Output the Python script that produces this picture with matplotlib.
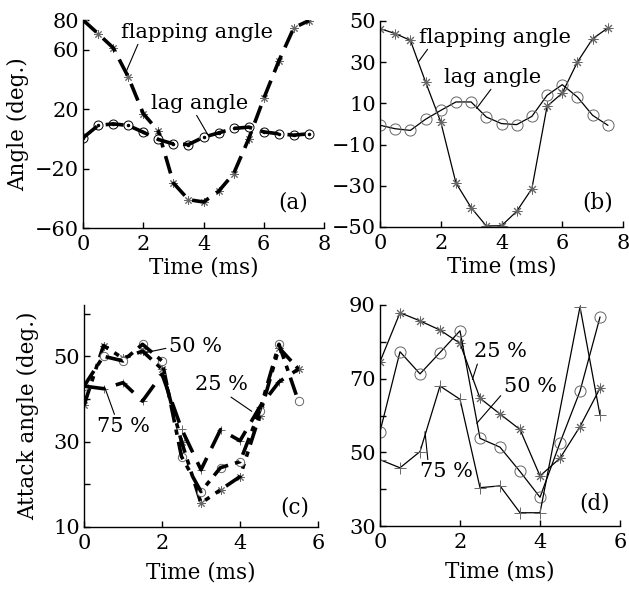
import matplotlib
matplotlib.use("Agg")
import matplotlib.pyplot as plt

plt.rcParams['font.family'] = ['DejaVu Serif']
plt.rcParams['font.size'] = 15
plt.rcParams['axes.unicode_minus'] = True

# ====================== DATA ======================
t_ab = [0, 0.5, 1.0, 1.5, 2.0, 2.5, 3.0, 3.5, 4.0, 4.5, 5.0, 5.5, 6.0, 6.5, 7.0, 7.5]

# (a) angles
flap_a = [80, 70.8, 61.3, 41.8, 17, 5.2, -29.7, -40.9, -42.5, -35.3, -23.4, 0, 27.2, 52.4, 74.8, 79.6]
lag_a = [0.7, 9, 10.1, 9, 4.5, -0.4, -3.4, -3.8, 1.1, 4.0, 7, 7.9, 4.7, 3.4, 2.5, 3.4]

# (b) angles
flap_b = [46.3, 43.9, 40.6, 20.4, 1.0, -28.6, -40.6, -49.5, -49.4, -42.4, -31.4, 8.6, 15.0, 30.1, 41.4, 46.6]
lag_b = [-0.6, -2.3, -3.1, 2.3, 6.6, 10.7, 10.7, 3.4, 0.2, -0.3, 3.7, 13.9, 19.1, 13.1, 4.2, -0.6]

# (c) attack angle
t_cd = [0, 0.5, 1.0, 1.5, 2.0, 2.5, 3.0, 3.5, 4.0, 4.5, 5.0, 5.5]
c_25 = [38.5, 52.5, 49.5, 51.2, 47, 30, 15.6, 18.7, 21.8, 36, 52, 47]
c_50 = [43, 50, 48.9, 52.8, 48.9, 26.5, 18.3, 23.9, 25.3, 37.1, 52.8, 39.4]
c_75 = [43, 42.4, 43.8, 39.5, 45.8, 33, 23.4, 32.8, 30.2, 38, 44, 47]

# (d) attack angle
d_25 = [74.6, 87.9, 85.7, 83.2, 79.6, 64.7, 60.4, 56.2, 43.6, 48.4, 57.0, 67.4]
d_50 = [55.6, 77.3, 71.3, 77.1, 83.0, 53.8, 51.4, 44.8, 37.8, 52.6, 66.6, 86.7]
t_d75 = [0, 0.5, 1.0, 1.5, 2.0, 2.5, 3.0, 3.5, 4.0, 5.0, 5.5]
d_75 = [48, 45.8, 50.2, 68.0, 64.4, 40.4, 40.9, 33.6, 33.6, 89.5, 60.1]

W, H = 629, 595
fig = plt.figure(figsize=(W / 100, H / 100), dpi=100)


def box(l, r, t, b):
    return [l / W, 1 - b / H, (r - l) / W, (b - t) / H]


def style(ax):
    for s in ['top', 'right']:
        ax.spines[s].set_visible(False)
    for s in ['left', 'bottom']:
        ax.spines[s].set_linewidth(1.0)
    ax.tick_params(direction='in', length=4, width=1, labelsize=15)
    ax.tick_params(axis='x', pad=5)
    ax.tick_params(axis='y', pad=3)


star = (8, 2, 0)
grey = '#666666'
arrow = dict(arrowstyle='-', lw=0.8, color='black', shrinkA=0, shrinkB=0)
lab = 15.5

# ---------- (a) ----------
ax = fig.add_axes(box(83, 324, 20, 228))
ax.plot(t_ab, flap_a, ls='none', marker=star, ms=6, mec=grey, mew=0.7)
ax.plot(t_ab, flap_a, color='black', lw=2.6, dashes=(5, 2.5))
ax.plot(t_ab, lag_a, ls='none', marker='o', ms=6.5, mfc='white', mec='black', mew=0.7)
ax.plot(t_ab, lag_a, color='black', lw=2.6, dashes=(5, 2.5))
ax.plot(t_ab, lag_a, ls='none', marker='.', ms=3, color='black')
ax.set_xlim(0, 8)
ax.set_ylim(-60, 80)
ax.set_xticks([0, 2, 4, 6, 8])
ax.set_yticks([-60, -20, 20, 60, 80])
ax.set_xlabel('Time (ms)', fontsize=lab, labelpad=2)
ax.set_ylabel('Angle (deg.)', fontsize=lab, labelpad=4)
ax.annotate('flapping angle', xy=(1.44, 45.6), xytext=(3.78, 71.9),
            ha='center', va='center', arrowprops=dict(arrow, relpos=(0.12, 0)))
ax.annotate('lag angle', xy=(4.15, 2.6), xytext=(3.88, 24.1),
            ha='center', va='center', arrowprops=dict(arrow, relpos=(0.45, 0)))
ax.text(0.87, 0.125, '(a)', transform=ax.transAxes, ha='center', va='center', fontsize=lab)
style(ax)

# ---------- (b) ----------
ax = fig.add_axes(box(380, 623, 21, 227))
ax.plot(t_ab, flap_b, color='black', lw=0.9, marker=star, ms=7, mec=grey, mew=0.7)
ax.plot(t_ab, lag_b, color='black', lw=0.9, marker='o', ms=8, mfc='none', mec=grey, mew=0.7)
ax.set_xlim(0, 8)
ax.set_ylim(-50, 50)
ax.set_xticks([0, 2, 4, 6, 8])
ax.set_yticks([-50, -30, -10, 10, 30, 50])
ax.set_xlabel('Time (ms)', fontsize=lab, labelpad=2)
ax.annotate('flapping angle', xy=(1.26, 30.1), xytext=(3.78, 42.2),
            ha='center', va='center', arrowprops=dict(arrow, relpos=(0.08, 0.1)))
ax.annotate('lag angle', xy=(3.18, 7.6), xytext=(3.72, 22.8),
            ha='center', va='center', arrowprops=dict(arrow, relpos=(0.5, 0)))
ax.text(0.897, 0.121, '(b)', transform=ax.transAxes, ha='center', va='center', fontsize=lab)
style(ax)

# ---------- (c) ----------
ax = fig.add_axes(box(84, 318, 305, 527))
ax.plot(t_cd, c_25, ls='none', marker=star, ms=6, mec=grey, mew=0.7)
ax.plot(t_cd, c_25, color='black', lw=2.6, dashes=(5, 2, 1.5, 2, 1.5, 2))
ax.plot(t_cd, c_50, ls='none', marker='o', ms=6, mfc='white', mec=grey, mew=0.7)
ax.plot(t_cd, c_50, color='black', lw=2.6, dashes=(5, 2, 1.5, 2))
ax.plot(t_cd, c_75, ls='none', marker='+', ms=6, mec=grey, mew=0.7)
ax.plot(t_cd, c_75, color='black', lw=2.6, dashes=(6, 3))
ax.set_xlim(0, 6)
ax.set_ylim(10, 62)
ax.set_xticks([0, 2, 4, 6])
ax.set_yticks([10, 20, 30, 40, 50, 60])
ax.set_yticklabels(['10', '', '30', '', '50', ''])
ax.set_xlabel('Time (ms)', fontsize=lab, labelpad=6)
ax.set_ylabel('Attack angle (deg.)', fontsize=lab, labelpad=10)
ax.annotate('50 %', xy=(1.56, 50.8), xytext=(2.85, 52.2),
            ha='center', va='center', arrowprops=dict(arrow, relpos=(0, 0.45)))
ax.annotate('25 %', xy=(4.3, 37.1), xytext=(3.53, 43.3),
            ha='center', va='center', arrowprops=dict(arrow, relpos=(0.6, 0)))
ax.annotate('75 %', xy=(0.54, 42.5), xytext=(1.01, 33.5),
            ha='center', va='center', arrowprops=dict(arrow, relpos=(0.35, 1)))
ax.text(0.90, 0.09, '(c)', transform=ax.transAxes, ha='center', va='center', fontsize=lab)
style(ax)

# ---------- (d) ----------
ax = fig.add_axes(box(380, 620, 305, 526))
ax.plot(t_cd, d_25, color='black', lw=0.9, marker=star, ms=7, mec=grey, mew=0.7)
ax.plot(t_cd, d_50, color='black', lw=0.9, marker='o', ms=8, mfc='none', mec=grey, mew=0.7)
ax.plot(t_d75, d_75, color='black', lw=0.9, marker='+', ms=9, mec=grey, mew=0.7)
ax.set_xlim(0, 6)
ax.set_ylim(30, 90)
ax.set_xticks([0, 2, 4, 6])
ax.set_yticks([30, 40, 50, 60, 70, 80, 90])
ax.set_yticklabels(['30', '', '50', '', '70', '', '90'])
ax.set_xlabel('Time (ms)', fontsize=lab, labelpad=6)
ax.annotate('25 %', xy=(2.31, 69.8), xytext=(3.0, 77.3),
            ha='center', va='center', arrowprops=dict(arrow, relpos=(0.1, 0.1)))
ax.annotate('50 %', xy=(2.42, 57.9), xytext=(3.75, 67.8),
            ha='center', va='center', arrowprops=dict(arrow, relpos=(0, 0.2)))
ax.annotate('75 %', xy=(1.125, 55.6), xytext=(1.67, 44.7),
            ha='center', va='center', arrowprops=dict(arrow, relpos=(0.15, 0.9)))
ax.text(0.896, 0.10, '(d)', transform=ax.transAxes, ha='center', va='center', fontsize=lab)
style(ax)

fig.savefig('out.png', dpi=100)
